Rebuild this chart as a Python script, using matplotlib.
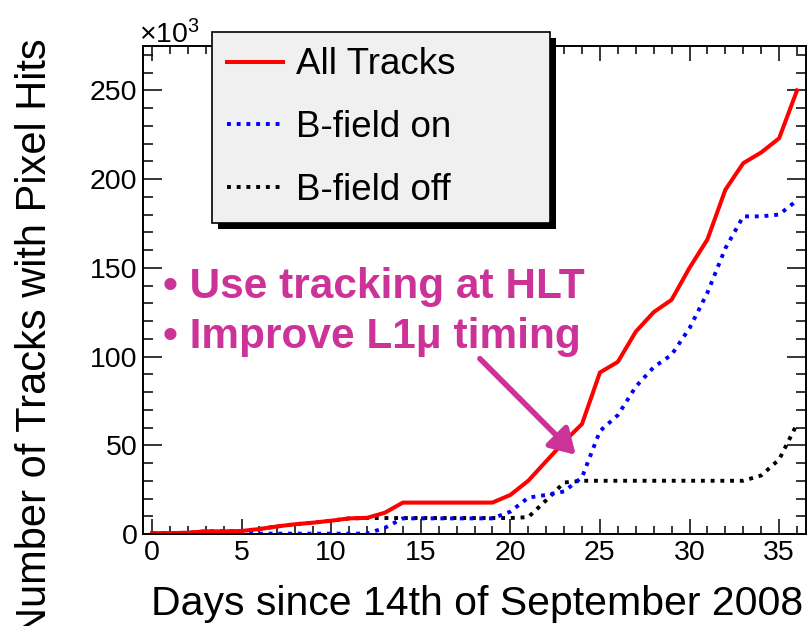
import numpy as np
import matplotlib.pyplot as plt
from matplotlib.patches import Rectangle
from matplotlib.transforms import IdentityTransform

plt.rcParams['font.family'] = ['Liberation Sans', 'DejaVu Sans']
plt.rcParams['mathtext.fontset'] = 'custom'
plt.rcParams['mathtext.rm'] = 'Liberation Sans'
plt.rcParams['mathtext.it'] = 'Liberation Sans:italic'

# cumulative number of tracks (x1000) per day
days = np.arange(0, 37)
all_tracks = [0.5, 0.5, 0.7, 1.5, 1.5, 1.7, 2.8, 4.3, 5.5, 6.4,
              7.5, 8.8, 9.1, 12.0, 17.7, 17.7, 17.7, 17.7, 17.7, 17.7,
              22.0, 30.0, 41.0, 52.0, 62.0, 91.0, 97.0, 114.0, 125.0, 132.0,
              150.0, 166.0, 194.0, 209.0, 215.0, 223.0, 250.0]
bfield_on = [0.2, 0.2, 0.2, 0.2, 0.2, 0.2, 0.2, 0.2, 0.2, 0.2,
             0.2, 0.2, 0.2, 3.5, 8.8, 8.8, 8.8, 8.8, 8.8, 8.8,
             12.6, 20.5, 22.0, 24.0, 32.0, 58.0, 67.0, 83.0, 94.0, 101.0,
             116.0, 136.0, 161.0, 179.0, 179.0, 180.0, 188.0]
bfield_off = [0.5, 0.5, 0.7, 1.5, 1.5, 1.7, 2.8, 4.3, 5.5, 6.4,
              7.5, 8.8, 9.0, 9.0, 9.0, 9.0, 9.0, 9.0, 9.0, 9.0,
              9.0, 9.5, 19.0, 29.0, 30.0, 30.0, 30.0, 30.0, 30.0, 30.0,
              30.0, 30.0, 30.0, 30.0, 33.0, 42.0, 62.0]

magenta = '#cc3399'

fig = plt.figure(figsize=(8.1, 6.26), dpi=100)
ax = fig.add_axes([143/810, 92/626, 663/810, 488/626])

dots = (0, (1, 1.5))
ax.plot(days, bfield_off, color='black', lw=2.8, ls=dots, label='B-field off')
ax.plot(days, bfield_on, color='blue', lw=2.8, ls=dots, label='B-field on')
ax.plot(days, all_tracks, color='red', lw=2.9, label='All Tracks')

ax.set_xlim(-0.5, 36.5)
ax.set_ylim(0, 275)
ax.set_xticks(np.arange(0, 36, 5))
ax.set_xticks(np.arange(0, 37, 1), minor=True)
ax.set_yticks(np.arange(0, 251, 50))
ax.set_yticks(np.arange(0, 271, 10), minor=True)
ax.tick_params(axis='both', which='both', direction='in', top=True, right=True,
               width=1.1, labelsize=20.5, pad=4)
ax.tick_params(axis='x', which='major', length=11)
ax.tick_params(axis='x', which='minor', length=5.5)
ax.tick_params(axis='y', which='major', length=14)
ax.tick_params(axis='y', which='minor', length=7)
for s in ax.spines.values():
    s.set_linewidth(1.4)

fig.text(139/810, 1 - 43/626, r'$\times10^{3}$', fontsize=20.5, va='baseline', ha='left')
fig.text(803/810, 1 - 615/626, 'Days since 14th of September 2008',
         fontsize=29.5, ha='right', va='baseline')
fig.text(46/810, 1 - 38/626, 'Number of Tracks with Pixel Hits',
         fontsize=30, rotation=90, ha='right', va='baseline', rotation_mode='anchor')

# legend in ROOT style: grey box with a solid black shadow
h, l = ax.get_legend_handles_labels()
order = [2, 1, 0]
leg = ax.legend([h[i] for i in order], [l[i] for i in order],
                loc='upper left', mode='expand',
                bbox_to_anchor=(212/810, 1 - 223/626, 338/810, 191/626),
                bbox_transform=fig.transFigure, borderaxespad=0,
                fontsize=26.5, handlelength=1.5, handletextpad=0.35,
                labelspacing=0.75, borderpad=0.42, fancybox=False,
                framealpha=1, facecolor='#f0f0f0', edgecolor='black')
leg.get_frame().set_linewidth(1.2)

ax.text(0.6, 133, '• Use tracking at HLT', color=magenta, fontsize=30.5,
        fontweight='bold', va='baseline')
ax.text(0.6, 105, '• Improve L1μ timing', color=magenta, fontsize=30.5,
        fontweight='bold', va='baseline')
ax.annotate('', xy=(23.65, 44.6), xytext=(18.3, 98.8),
            arrowprops=dict(arrowstyle='-|>,head_length=0.75,head_width=0.45',
                            color=magenta, lw=4, mutation_scale=20,
                            shrinkA=0, shrinkB=0))

fig.canvas.draw()
bb = leg.get_window_extent()
shadow = Rectangle((bb.x0 + 6, bb.y0 - 6), bb.width, bb.height,
                   transform=IdentityTransform(), facecolor='black',
                   edgecolor='none', zorder=leg.get_zorder() - 0.1, clip_on=False)
ax.add_patch(shadow)

fig.savefig('out.png', dpi=100)
